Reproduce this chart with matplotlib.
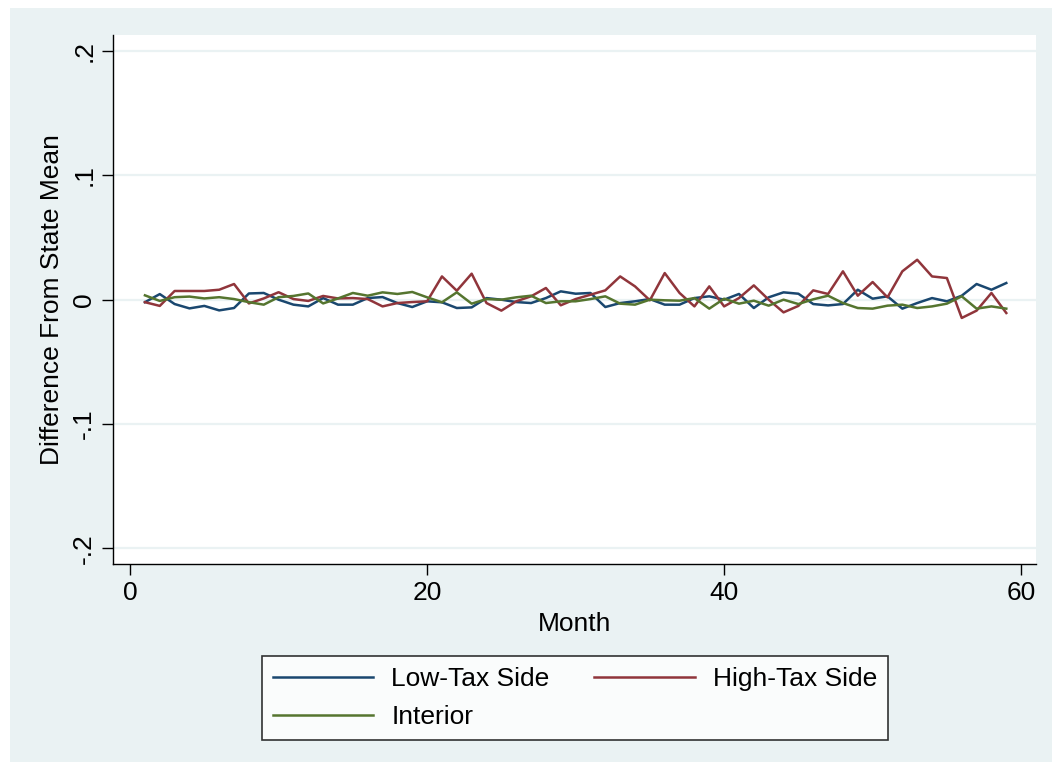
import matplotlib
matplotlib.use("Agg")
import matplotlib.pyplot as plt
from matplotlib.patches import Rectangle
import numpy as np

plt.rcParams['font.family'] = ['Liberation Sans', 'DejaVu Sans']

months = list(range(1, 60))
low_tax = [-0.002, 0.0045, -0.0035, -0.007, -0.005, -0.0086, -0.0067, 0.005, 0.0054, 0.0,
           -0.004, -0.0054, 0.0013, -0.004, -0.004, 0.0013, 0.0021, -0.0027, -0.0059, -0.0013,
           -0.0021, -0.0067, -0.0062, 0.0013, 0.0, -0.0019, -0.0027, 0.0013, 0.0067, 0.0048,
           0.0054, -0.0059, -0.0027, -0.0013, 0.0005, -0.004, -0.004, 0.0013, 0.0027, 0.0,
           0.0046, -0.0067, 0.0019, 0.0059, 0.0048, -0.0035, -0.0046, -0.0035, 0.008, 0.0008,
           0.0027, -0.0072, -0.0027, 0.0013, -0.0013, 0.0032, 0.0126, 0.008, 0.0134]
high_tax = [-0.002, -0.005, 0.007, 0.007, 0.007, 0.008, 0.0126, -0.003, 0.001, 0.006,
            0.0005, -0.001, 0.003, 0.001, 0.0013, 0.0005, -0.0054, -0.0027, -0.0019, -0.0013,
            0.0187, 0.0072, 0.0209, -0.0027, -0.0088, -0.0013, 0.0027, 0.0094, -0.0045, 0.0005,
            0.004, 0.0075, 0.0187, 0.0107, -0.0005, 0.0214, 0.0054, -0.0054, 0.0107, -0.0054,
            0.0013, 0.0115, 0.0, -0.0102, -0.005, 0.0075, 0.0046, 0.0228, 0.0032, 0.0142,
            0.0019, 0.0228, 0.0321, 0.0187, 0.0174, -0.0147, -0.0088, 0.0054, -0.0107]
interior = [0.0035, -0.001, 0.002, 0.0025, 0.001, 0.002, 0.0005, -0.002, -0.004, 0.002,
            0.003, 0.005, -0.003, 0.001, 0.0054, 0.0032, 0.0059, 0.0046, 0.0062, 0.0019,
            -0.0021, 0.0059, -0.0032, 0.0005, 0.0, 0.0019, 0.0032, -0.0027, -0.0013, -0.0013,
            0.0005, 0.0027, -0.0032, -0.004, 0.0, -0.0005, -0.0008, 0.0013, -0.0072, 0.0008,
            -0.0032, -0.0008, -0.0048, 0.0, -0.0035, 0.0003, 0.0032, -0.0027, -0.0067, -0.0072,
            -0.0048, -0.004, -0.0067, -0.0054, -0.0032, 0.0027, -0.0072, -0.0054, -0.0072]

xticks = [0, 20, 40, 60]
yticks = [-0.2, -0.1, 0.0, 0.1, 0.2]
ytick_labels = ["-.2", "-.1", "0", ".1", ".2"]

navy = "#1a476f"
maroon = "#90353b"
green = "#55752f"
bg = "#eaf2f3"

W, H = 1060, 772
FS = 19
fig = plt.figure(figsize=(W / 100, H / 100), dpi=100)
fig.patch.set_facecolor("white")
fig.add_artist(Rectangle((10 / W, 1 - 762 / H), 1042 / W, 754 / H,
                         transform=fig.transFigure, facecolor=bg, edgecolor="none", zorder=-10))

ax = fig.add_axes([113 / W, 1 - 564 / H, (1036 - 113) / W, (564 - 35) / H])
ax.set_facecolor("white")

for yv in yticks:
    ax.axhline(yv, color=bg, lw=1.6, zorder=0)

l1, = ax.plot(months, low_tax, color=navy, lw=1.8, label="Low-Tax Side")
l2, = ax.plot(months, high_tax, color=maroon, lw=1.8, label="High-Tax Side")
l3, = ax.plot(months, interior, color=green, lw=1.8, label="Interior")

ax.set_xlim(-1.15, 61.0)
ax.set_ylim(-0.2125, 0.2128)
ax.set_xticks(xticks)
ax.set_xticklabels([str(v) for v in xticks], fontsize=FS)
ax.set_yticks(yticks)
ax.set_yticklabels(ytick_labels, fontsize=FS, rotation=90, va="center")
ax.tick_params(direction="out", length=8, width=1, color="black", pad=4)
for s in ["top", "right"]:
    ax.spines[s].set_visible(False)
for s in ["left", "bottom"]:
    ax.spines[s].set_color("black")
    ax.spines[s].set_linewidth(1)

ax.set_xlabel("Month", fontsize=FS, labelpad=5)
ax.set_ylabel("Difference From State Mean", fontsize=FS, labelpad=6)

leg = fig.legend([l1, l3, l2], ["Low-Tax Side", "Interior", "High-Tax Side"],
                 ncol=2, loc="center", bbox_to_anchor=(575 / W, 1 - 698 / H),
                 fontsize=FS, handlelength=3.8, columnspacing=1.7, frameon=True,
                 fancybox=False, edgecolor="black", borderpad=0.4, labelspacing=0.55,
                 handletextpad=0.7)
leg.get_frame().set_linewidth(1.2)
leg.get_frame().set_facecolor("white")

fig.savefig("out.png", dpi=100, facecolor=fig.get_facecolor())
